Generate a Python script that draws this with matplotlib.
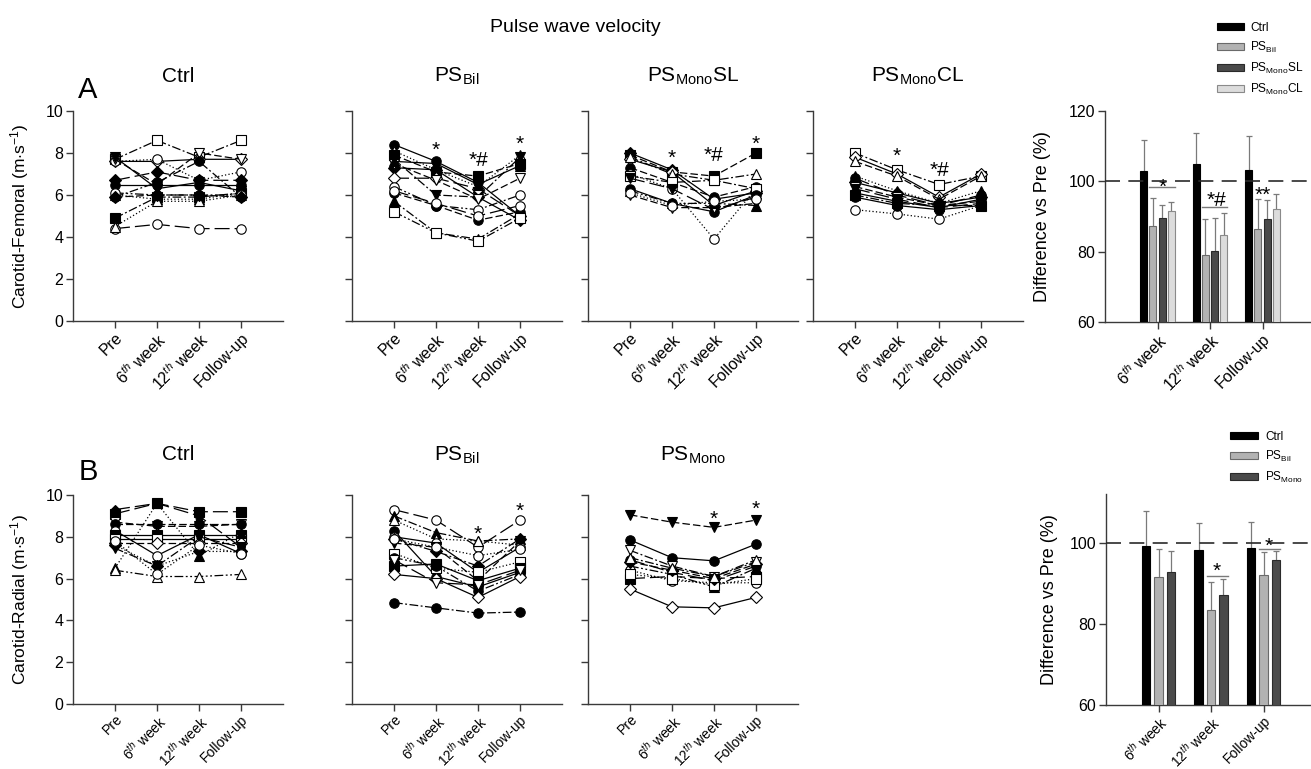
import matplotlib
matplotlib.use('Agg')
import matplotlib.pyplot as plt
import numpy as np

plt.rcParams['font.family'] = ['Liberation Sans', 'DejaVu Sans']
plt.rcParams['mathtext.fontset'] = 'custom'
plt.rcParams['mathtext.rm'] = 'Liberation Sans'
plt.rcParams['mathtext.it'] = 'Liberation Sans:italic'
plt.rcParams['mathtext.bf'] = 'Liberation Sans:bold'

# ---------------- data ----------------
timepoints = ['Pre', '6$^{th}$ week', '12$^{th}$ week', 'Follow-up']
bar_timepoints = ['6$^{th}$ week', '12$^{th}$ week', 'Follow-up']

# Panel A: carotid-femoral PWV (m/s), one row per subject (Pre, 6th, 12th, Follow-up)
cf_ctrl = [
    [7.7, 8.6, 7.8, 8.6],
    [7.6, 7.6, 7.7, 7.7],
    [7.6, 7.7, 6.7, 7.1],
    [7.7, 6.5, 8.0, 7.7],
    [7.8, 6.3, 6.6, 6.2],
    [6.7, 7.1, 6.7, 6.7],
    [6.5, 6.5, 6.5, 6.5],
    [5.9, 6.6, 7.6, 5.9],
    [4.9, 5.9, 5.9, 6.1],
    [6.0, 5.8, 5.8, 6.1],
    [4.4, 4.6, 4.4, 4.4],
    [4.5, 5.7, 5.7, 6.0],
    [6.1, 6.0, 6.0, 6.0],
    [5.9, 6.0, 6.0, 5.9],
]
cf_bil = [
    [8.4, 7.6, 6.6, 5.0],
    [8.1, 7.2, 6.4, 7.9],
    [7.9, 7.1, 6.9, 7.5],
    [7.7, 6.0, 5.9, 7.8],
    [7.3, 7.2, 5.9, 4.8],
    [6.8, 6.8, 6.3, 5.0],
    [7.5, 6.7, 5.8, 6.8],
    [6.4, 5.5, 5.3, 6.0],
    [6.1, 5.5, 4.8, 5.2],
    [5.7, 4.2, 3.9, 5.1],
    [5.2, 4.2, 3.8, 4.9],
    [6.2, 5.6, 5.0, 5.5],
    [7.6, 7.5, 6.5, 7.4],
]
cf_mono_sl = [
    [8.0, 7.2, 5.8, 6.1],
    [7.9, 7.1, 6.9, 8.0],
    [7.7, 7.1, 5.5, 6.2],
    [7.8, 7.0, 6.7, 7.0],
    [7.3, 6.6, 5.9, 6.4],
    [7.0, 6.3, 3.9, 6.3],
    [6.9, 6.6, 6.7, 6.3],
    [6.8, 6.3, 5.3, 5.9],
    [6.3, 5.6, 5.2, 6.0],
    [6.0, 5.4, 5.4, 5.6],
    [6.2, 5.6, 5.6, 5.5],
    [6.1, 5.5, 5.7, 5.8],
]
cf_mono_cl = [
    [8.0, 7.2, 6.5, 6.9],
    [7.8, 7.0, 5.9, 7.0],
    [7.6, 6.9, 5.8, 6.9],
    [6.9, 6.2, 5.6, 6.2],
    [6.8, 6.0, 5.5, 6.0],
    [6.6, 6.1, 5.6, 5.9],
    [6.4, 5.9, 5.5, 5.7],
    [6.1, 5.7, 5.4, 5.8],
    [6.0, 5.6, 5.5, 5.5],
    [6.3, 5.8, 5.4, 5.6],
    [5.3, 5.1, 4.85, 5.5],
    [5.9, 5.5, 5.3, 5.5],
]

# Panel B: carotid-radial PWV (m/s)
cr_ctrl = [
    [9.3, 9.6, 9.0, 7.5],
    [9.1, 9.6, 9.2, 9.2],
    [8.7, 8.5, 8.5, 8.6],
    [8.6, 8.6, 8.6, 8.6],
    [8.3, 7.1, 8.1, 7.2],
    [8.1, 8.1, 8.1, 8.1],
    [7.9, 7.9, 7.9, 7.9],
    [7.7, 7.7, 7.7, 7.7],
    [7.45, 6.6, 8.0, 7.5],
    [6.5, 9.6, 7.1, 8.2],
    [6.4, 6.1, 6.1, 6.2],
    [7.6, 6.6, 7.3, 7.3],
    [7.8, 6.2, 7.6, 7.2],
]
cr_bil = [
    [9.3, 8.8, 7.5, 8.8],
    [9.0, 8.2, 7.8, 7.9],
    [8.8, 7.9, 7.8, 7.6],
    [8.3, 6.1, 5.6, 6.3],
    [8.0, 7.7, 6.3, 7.5],
    [7.7, 7.5, 5.9, 7.8],
    [7.9, 7.3, 6.6, 7.9],
    [7.2, 6.5, 6.3, 6.8],
    [7.0, 6.6, 5.4, 6.2],
    [6.6, 6.7, 5.9, 6.5],
    [6.2, 6.0, 5.1, 6.1],
    [6.9, 5.8, 5.7, 6.4],
    [4.85, 4.6, 4.35, 4.4],
    [7.9, 7.5, 7.1, 7.4],
]
cr_mono = [
    [9.05, 8.7, 8.45, 8.8],
    [7.85, 7.0, 6.85, 7.65],
    [7.35, 6.6, 6.1, 6.8],
    [6.9, 6.3, 5.9, 6.6],
    [6.6, 6.2, 5.6, 6.5],
    [6.0, 6.1, 6.0, 6.1],
    [6.4, 5.9, 5.8, 5.8],
    [5.5, 4.65, 4.6, 5.1],
    [6.2, 6.0, 5.7, 6.0],
    [6.8, 6.4, 6.0, 6.7],
    [7.0, 6.5, 6.1, 6.9],
]

# Bar panels: % of Pre, mean and SD at 6th week, 12th week, Follow-up
cf_pct_ctrl = [102.8, 105.0, 103.1]
cf_pct_bil = [87.3, 79.0, 86.4]
cf_pct_mono_sl = [89.7, 80.2, 89.2]
cf_pct_mono_cl = [91.6, 84.6, 92.0]
cf_sd_ctrl = [9.0, 8.8, 9.7]
cf_sd_bil = [7.9, 10.2, 8.6]
cf_sd_mono_sl = [3.5, 9.5, 5.4]
cf_sd_mono_cl = [2.4, 6.4, 4.5]

cr_pct_ctrl = [99.2, 98.2, 98.8]
cr_pct_bil = [91.5, 83.3, 92.1]
cr_pct_mono = [92.7, 87.2, 95.7]
cr_sd_ctrl = [8.6, 6.6, 6.4]
cr_sd_bil = [7.0, 7.0, 5.7]
cr_sd_mono = [5.3, 3.9, 2.3]

# ---------------- styles ----------------
LS = {'-': '-', '--': (0, (6, 2.5)), ':': (0, (1, 1.8)), '-.': (0, (7, 2, 1.5, 2)),
      '-..': (0, (7, 2, 1.5, 2, 1.5, 2)), 'ld': (0, (12, 4))}

sty_cf_ctrl = [('s', 0, '-.'), ('D', 0, '-'), ('o', 0, ':'), ('v', 0, '--'), ('v', 1, '-'),
               ('D', 1, 'ld'), ('o', 1, '-'), ('o', 1, '-.'), ('s', 1, '-.'), ('^', 1, ':'),
               ('o', 0, 'ld'), ('^', 0, ':'), ('o', 0, '-..'), ('D', 1, '--')]
sty_cf_bil = [('o', 1, '-'), ('^', 0, ':'), ('s', 1, '--'), ('v', 1, '-.'), ('D', 1, '-'),
              ('D', 0, 'ld'), ('v', 0, '--'), ('o', 0, '-..'), ('o', 1, '--'), ('^', 1, '-.'),
              ('s', 0, '-..'), ('o', 0, 'ld'), ('^', 1, '-')]
sty_cf_sl = [('D', 1, '-'), ('s', 1, '--'), ('D', 0, '-'), ('^', 0, '-.'), ('o', 1, '--'),
             ('o', 0, ':'), ('s', 0, '-.'), ('v', 1, 'ld'), ('o', 1, '-'), ('v', 0, '--'),
             ('^', 1, '-..'), ('o', 0, ':')]
sty_cf_cl = [('s', 0, '-.'), ('D', 0, '-'), ('^', 0, '--'), ('^', 1, ':'), ('o', 1, 'ld'),
             ('D', 1, '-'), ('v', 0, '--'), ('o', 1, '-'), ('s', 1, '-.'), ('v', 1, 'ld'),
             ('o', 0, ':'), ('o', 1, '-')]
sty_cr_ctrl = [('p', 1, 'ld'), ('s', 1, 'ld'), ('v', 0, '--'), ('o', 1, '--'), ('o', 0, '-'),
               ('s', 1, '-'), ('s', 0, '-'), ('D', 0, '--'), ('v', 1, '-.'), ('^', 1, ':'),
               ('^', 0, '-..'), ('D', 1, ':'), ('o', 0, ':')]
sty_cr_bil = [('o', 0, 'ld'), ('^', 1, '-.'), ('^', 0, ':'), ('o', 1, '-'), ('o', 0, '-'),
              ('v', 1, '--'), ('D', 1, '-.'), ('s', 0, ':'), ('o', 1, '-..'), ('s', 1, '-'),
              ('D', 0, '-'), ('v', 0, 'ld'), ('o', 1, '-.'), ('o', 0, ':')]
sty_cr_mono = [('v', 1, '--'), ('o', 1, '-'), ('v', 0, '-.'), ('o', 1, 'ld'), ('^', 1, '-..'),
               ('s', 1, 'ld'), ('o', 0, ':'), ('D', 0, '-'), ('s', 0, ':'), ('D', 1, '--'),
               ('^', 0, '-.')]

SPINE = '#3a3a3a'
W, H = 1311, 769
fig = plt.figure(figsize=(W / 100, H / 100), dpi=100)


def add_ax(left, top, width, height):
    return fig.add_axes([left / W, 1 - (top + height) / H, width / W, height / H])


def style_axes(ax, xlabelsize=11.5, xpad=1.5):
    for s in ['top', 'right']:
        ax.spines[s].set_visible(False)
    for s in ['left', 'bottom']:
        ax.spines[s].set_color(SPINE)
        ax.spines[s].set_linewidth(1.0)
    ax.tick_params(direction='out', length=5, width=1.0, color=SPINE, labelsize=11.5, pad=2)
    ax.tick_params(axis='x', labelsize=xlabelsize, pad=xpad)


def line_panel(ax, data, styles, title, ylabel=None, sig=(), title_pad=21, xlabelsize=11.5,
               xpad=1.5):
    x = np.arange(4)
    for vals, (mk, filled, ls) in zip(data, styles):
        ms = 5.8 if mk == 'D' else 6.8
        ax.plot(x, vals, color='black', lw=0.9, linestyle=LS[ls], marker=mk, ms=ms,
                mfc='black' if filled else 'white', mec='black', mew=0.8)
    ax.set_xlim(-1, 4)
    ax.set_ylim(0, 10)
    ax.set_yticks([0, 2, 4, 6, 8, 10])
    ax.set_xticks(x)
    ax.set_xticklabels(timepoints, rotation=45, ha='right', va='top', rotation_mode='anchor')
    style_axes(ax, xlabelsize, xpad)
    if ylabel:
        ax.set_ylabel(ylabel, fontsize=12.5)
        ax.yaxis.set_label_coords(-0.2, 0.5)
    else:
        ax.set_yticklabels([])
    ax.set_title(title, fontsize=15, pad=title_pad)
    for (xi, yi, txt) in sig:
        ax.text(xi, yi, txt, ha='center', va='center', fontsize=15)


def bar_panel(ax, means, sds, colors, edges, labels, width, step, ylim, yticks, ylabel,
              xlabelsize=11.5, xpad=1.5):
    x = np.arange(3)
    n = len(means)
    handles = []
    for i in range(n):
        off = (i - (n - 1) / 2) * step
        ax.errorbar(x + off, means[i], yerr=sds[i], fmt='none', ecolor='#7a7a7a',
                    elinewidth=0.9, capsize=2.4, capthick=0.9, zorder=1)
        b = ax.bar(x + off, means[i], width, color=colors[i], edgecolor=edges[i],
                   linewidth=0.8, zorder=3, label=labels[i])
        handles.append(b)
    ax.axhline(100, color='#2a2a2a', lw=1.2, linestyle=(0, (9, 5)), zorder=4)
    ax.set_xlim(-1, 3)
    ax.set_ylim(*ylim)
    ax.set_yticks(yticks)
    ax.set_xticks(x)
    ax.set_xticklabels(bar_timepoints, rotation=45, ha='right', va='top', rotation_mode='anchor')
    style_axes(ax, xlabelsize, xpad)
    ax.set_ylabel(ylabel, fontsize=13)
    return handles


lefts = [73, 352, 588, 813]

# ---- Row A ----
axA = [add_ax(l, 111, 210, 210) for l in lefts]
line_panel(axA[0], cf_ctrl, sty_cf_ctrl, 'Ctrl', ylabel='Carotid-Femoral (m$\\cdot$s$^{-1}$)')
line_panel(axA[1], cf_bil, sty_cf_bil, 'PS$_{\\mathrm{Bil}}$',
           sig=[(1, 8.15, '*'), (2, 7.65, '*#'), (3, 8.4, '*')])
line_panel(axA[2], cf_mono_sl, sty_cf_sl, 'PS$_{\\mathrm{Mono}}$SL',
           sig=[(1, 7.75, '*'), (2, 7.9, '*#'), (3, 8.4, '*')])
line_panel(axA[3], cf_mono_cl, sty_cf_cl, 'PS$_{\\mathrm{Mono}}$CL',
           sig=[(1, 7.85, '*'), (2, 7.15, '*#')])

axAb = add_ax(1105, 111, 210, 211)
hA = bar_panel(axAb, [cf_pct_ctrl, cf_pct_bil, cf_pct_mono_sl, cf_pct_mono_cl],
               [cf_sd_ctrl, cf_sd_bil, cf_sd_mono_sl, cf_sd_mono_cl],
               ['#000000', '#b2b2b2', '#4a4a4a', '#dcdcdc'],
               ['#000000', '#6a6a6a', '#2a2a2a', '#8a8a8a'],
               ['Ctrl', 'PS$_{\\mathrm{Bil}}$', 'PS$_{\\mathrm{Mono}}$SL', 'PS$_{\\mathrm{Mono}}$CL'],
               0.133, 0.177, (60, 120), [60, 80, 100, 120], 'Difference vs Pre (%)')
axAb.yaxis.set_label_coords(-0.255, 0.5)
axAb.plot([0 - 0.155, 0 + 0.333], [98.5, 98.5], color='#7a7a7a', lw=1.0, zorder=5)
axAb.text(0.1, 98.3, '*', ha='center', va='center', fontsize=15)
axAb.plot([1 - 0.155, 1 + 0.333], [92.7, 92.7], color='#7a7a7a', lw=1.0, zorder=5)
axAb.text(1.12, 94.6, '*#', ha='center', va='center', fontsize=15)
axAb.text(2.0, 96.0, '**', ha='center', va='center', fontsize=15)
fig.legend(handles=hA, labels=[h.get_label() for h in hA], loc='upper left',
           bbox_to_anchor=(1217 / W, 1 - 22 / H), frameon=False, fontsize=8.6,
           borderpad=0, borderaxespad=0, handlelength=2.3, handleheight=0.5,
           handletextpad=0.5, labelspacing=0.5)

# ---- Row B ----
BX = 10.0
axB = [add_ax(l, 495, 210, 209) for l in lefts[:3]]
line_panel(axB[0], cr_ctrl, sty_cr_ctrl, 'Ctrl', ylabel='Carotid-Radial (m$\\cdot$s$^{-1}$)',
           title_pad=25, xlabelsize=BX, xpad=1)
line_panel(axB[1], cr_bil, sty_cr_bil, 'PS$_{\\mathrm{Bil}}$',
           sig=[(2, 8.1, '*'), (3, 9.2, '*')], title_pad=25, xlabelsize=BX, xpad=1)
line_panel(axB[2], cr_mono, sty_cr_mono, 'PS$_{\\mathrm{Mono}}$',
           sig=[(2, 8.85, '*'), (3, 9.3, '*')], title_pad=25, xlabelsize=BX, xpad=1)

axBb = add_ax(1106, 494, 210, 211)
hB = bar_panel(axBb, [cr_pct_ctrl, cr_pct_bil, cr_pct_mono],
               [cr_sd_ctrl, cr_sd_bil, cr_sd_mono],
               ['#000000', '#b2b2b2', '#4a4a4a'],
               ['#000000', '#6a6a6a', '#2a2a2a'],
               ['Ctrl', 'PS$_{\\mathrm{Bil}}$', 'PS$_{\\mathrm{Mono}}$'],
               0.158, 0.238, (60, 112), [60, 80, 100], 'Difference vs Pre (%)',
               xlabelsize=BX, xpad=1)
axBb.yaxis.set_label_coords(-0.23, 0.5)
axBb.plot([1 - 0.079, 1 + 0.317], [91.7, 91.7], color='#7a7a7a', lw=1.0, zorder=5)
axBb.text(1.11, 93.0, '*', ha='center', va='center', fontsize=15)
axBb.plot([2 - 0.079, 2 + 0.317], [98.4, 98.4], color='#7a7a7a', lw=1.0, zorder=5)
axBb.text(2.1, 99.2, '*', ha='center', va='center', fontsize=15)
fig.legend(handles=hB, labels=[h.get_label() for h in hB], loc='upper left',
           bbox_to_anchor=(1230 / W, 1 - 431 / H), frameon=False, fontsize=8.5,
           borderpad=0, borderaxespad=0, handlelength=2.4, handleheight=0.5,
           handletextpad=0.6, labelspacing=0.5)

# ---- figure texts ----
fig.text(575 / W, 1 - 28 / H, 'Pulse wave velocity', ha='center', va='center', fontsize=14)
fig.text(88 / W, 1 - 90 / H, 'A', ha='center', va='center', fontsize=21)
fig.text(88 / W, 1 - 472 / H, 'B', ha='center', va='center', fontsize=21)

fig.savefig('out.png', dpi=100)
